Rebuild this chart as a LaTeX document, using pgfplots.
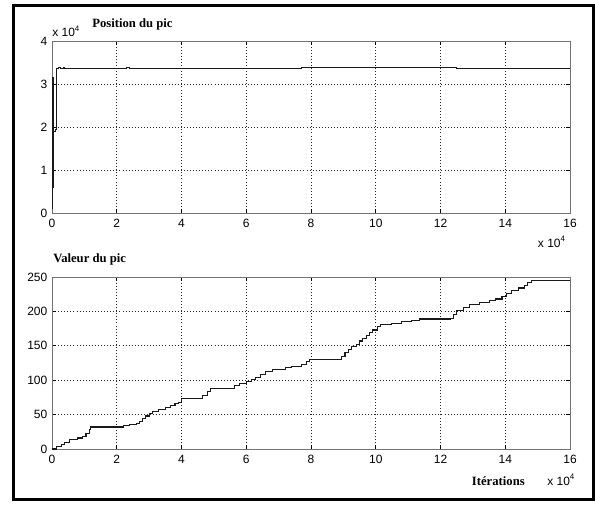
\documentclass[border=0pt]{standalone}
\usepackage{fontspec}
\setmainfont{Liberation Sans}
\newfontfamily\tim{Liberation Serif}
\usepackage{pgfplots}
\pgfplotsset{compat=1.18}
\begin{document}
\begin{tikzpicture}
\useasboundingbox (0pt,0pt) rectangle (446.25pt,378pt);
\pgfplotsset{
  myax/.style={
    scale only axis, width=388.5pt, height=129pt, anchor=south west,
    xmin=0, xmax=160000,
    xtick={0,20000,...,160000},
    xticklabels={0,2,4,6,8,10,12,14,16},
    scaled x ticks=false, scaled y ticks=false,
    grid=major,
    major grid style={black!85, line width=0.5pt, dash pattern=on 0.6pt off 1.7pt},
    axis line style={black!55, line width=0.7pt},
    tick style={black, line width=0.6pt},
    major tick length=3pt,
    tick align=inside,
    xtick pos=both, ytick pos=both,
    ticklabel style={font=\fontsize{9}{10}\selectfont},
    /pgf/number format/assume math mode=true,
    xticklabel style={yshift=-1pt},
    yticklabel style={xshift=0pt},
  }
}
\draw[line width=2.25pt] (9.75pt,3.4pt) rectangle (445.1pt,373.5pt);
\begin{axis}[myax, at={(39pt,218.25pt)},
  ymin=0, ymax=40000, ytick={0,10000,20000,30000,40000},
  yticklabels={0,1,2,3,4}]
\addplot[const plot, black!90, line width=0.8pt] coordinates {
(0,1000) (100,31500) (300,6000) (500,19000) (1200,19500) (1400,33500)
(2000,33800) (2500,33600) (3500,33800) (4000,33650) (22000,33650)
(23000,33750) (24000,33650) (76000,33650) (77000,33850) (124000,33850)
(125000,33650) (160000,33650)
};
\end{axis}
\begin{axis}[myax, at={(39pt,41.25pt)},
  ymin=0, ymax=250, ytick={0,50,100,150,200,250},
  yticklabels={0,50,100,150,200,250}]
\addplot[const plot, black!90, line width=0.8pt] coordinates {
(0,0) (1500,3) (3000,6) (4000,10) (5500,14) (8000,16) (9500,18)
(10500,22) (11500,28) (12000,32) (20000,32) (22000,34) (24000,35)
(26000,37) (27000,40) (28000,44) (29000,48) (30000,52) (31000,55)
(33000,57) (35000,60) (36500,63) (38000,66) (39000,68) (40000,73)
(45000,74) (46500,78) (48000,84) (49000,88) (55000,88) (56500,92)
(58000,95) (60000,98) (61500,101) (63000,104) (64500,108) (66000,112)
(68000,115) (70000,116) (72000,118) (74000,120) (77000,123)
(78500,127) (79500,130) (89000,130) (89500,135) (90500,140)
(91500,145) (92500,149) (94000,152) (95000,157) (96000,161)
(97000,165) (98000,169) (99000,173) (100500,178) (101500,181)
(105000,183) (108000,185) (111000,187) (113500,189) (123000,190)
(124000,196) (125000,201) (127000,206) (129000,210) (132000,213)
(135000,216) (137000,218) (139000,221) (140500,226) (142000,230)
(144000,234) (146000,238) (147000,242) (148000,245) (160000,245)
};
\end{axis}
\node[anchor=base west, inner sep=0pt, font=\tim\bfseries\fontsize{9.5}{11}\selectfont] at (69pt,357pt) {Position du pic};
\node[anchor=base west, inner sep=0pt, font=\fontsize{9}{10}\selectfont] at (39pt,350.25pt) {x 10\textsuperscript{4}};
\node[anchor=base east, inner sep=0pt, font=\fontsize{9}{10}\selectfont] at (424.5pt,192.75pt) {x 10\textsuperscript{4}};
\node[anchor=base west, inner sep=0pt, font=\tim\bfseries\fontsize{9.5}{11}\selectfont] at (39.75pt,181.5pt) {Valeur du pic};
\node[anchor=base east, inner sep=0pt, font=\tim\bfseries\fontsize{9.5}{11}\selectfont] at (393.75pt,14.25pt) {Itérations};
\node[anchor=base west, inner sep=0pt, font=\fontsize{9}{10}\selectfont] at (410.25pt,14.25pt) {x 10\textsuperscript{4}};
\end{tikzpicture}
\end{document}
